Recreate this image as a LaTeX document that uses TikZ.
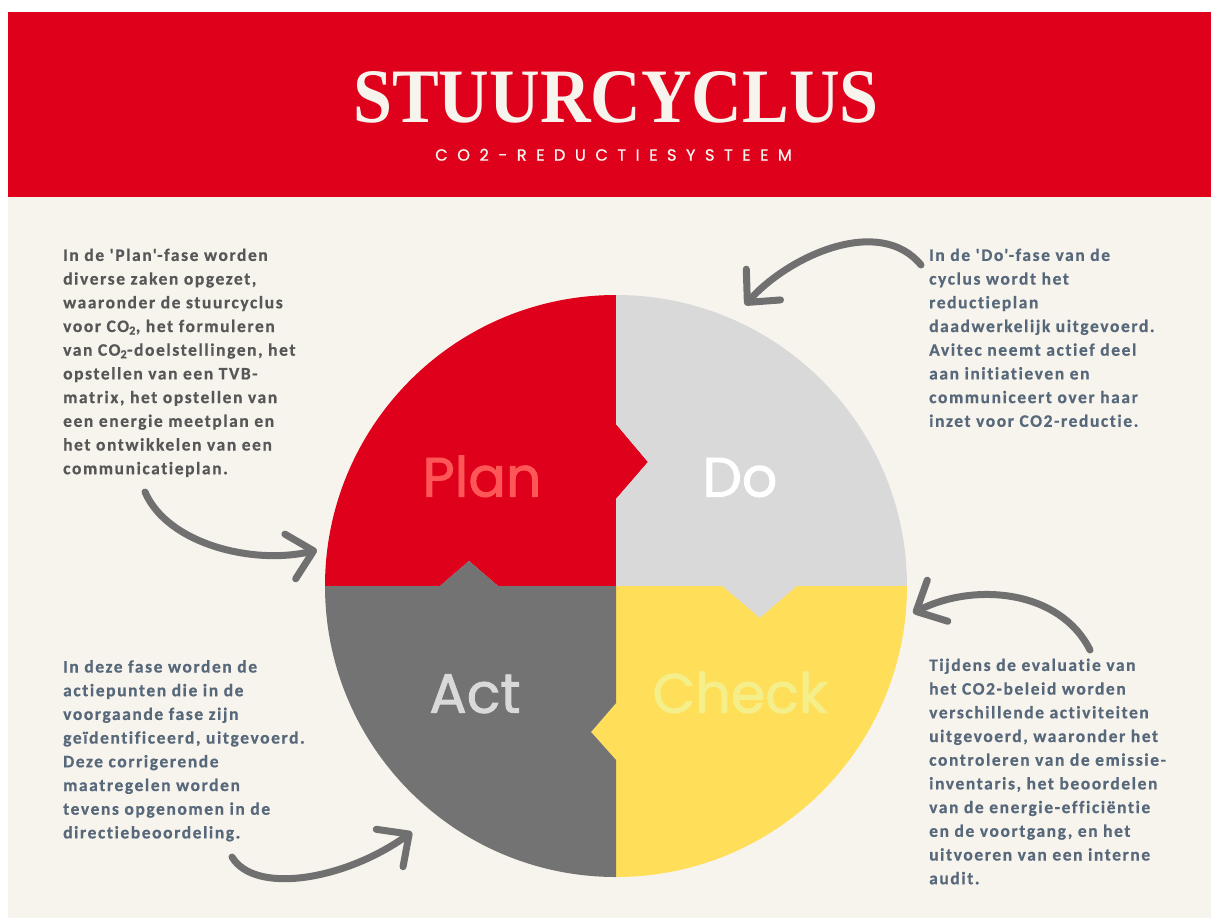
\documentclass[tikz,border=0pt]{standalone}
\usepackage{fontspec}
\usetikzlibrary{arrows.meta}
\newfontfamily\titlefont{Liberation Serif}
\newfontfamily\blockfont{Carlito}[LetterSpace=9,Ligatures={TeXOff,NoCommon},FakeBold=0.6]
\newfontfamily\lblfont{Poppins}[FakeBold=1.5]
\newfontfamily\subfont{Poppins}[LetterSpace=58,FakeBold=0.8]
\definecolor{hdrred}{HTML}{DF001B}
\definecolor{cream}{HTML}{F7F4EE}
\definecolor{ltgray}{HTML}{D9D9D9}
\definecolor{yel}{HTML}{FFDF5A}
\definecolor{dkgray}{HTML}{737373}
\definecolor{planlbl}{HTML}{FF5757}
\definecolor{checklbl}{HTML}{F4EF8A}
\definecolor{arrowgray}{HTML}{707070}
\definecolor{plantext}{HTML}{575757}
\definecolor{bluetext}{HTML}{56687A}
\tikzset{
  arw/.style={draw=arrowgray, line width=7pt, line cap=round,
    -{Straight Barb[length=24pt,width=46pt,round]}},
  blocktext/.style={anchor=north west, inner sep=0pt, align=left,
    font=\blockfont\bfseries\fontsize{17.5}{23.7}\selectfont},
  phaselbl/.style={anchor=base, inner sep=0pt,
    font=\lblfont\fontsize{55.5}{56}\selectfont},
}
\begin{document}
\begin{tikzpicture}[x=1pt,y=-1pt]
\useasboundingbox (0,0) rectangle (1211,918);
\fill[white] (0,0) rectangle (1211,918);
\fill[cream] (8,197) rectangle (1211,918);
\fill[hdrred] (8,12) rectangle (1211,197);

% header
\node[anchor=base, inner sep=0pt, text=cream,
  font=\titlefont\bfseries\fontsize{77}{77}\selectfont] (title) at (616,122)
  {\scalebox{0.91}[1]{STUURCYCLUS}};
\node[anchor=base west, inner sep=0pt, text=cream,
  font=\subfont\fontsize{16.3}{16}\selectfont] (subtitle) at (435,160.7)
  {CO2-REDUCTIESYSTEEM};

% PDCA circle
\begin{scope}
\clip (616,586) circle[radius=291];
\fill[hdrred] (616,586) -- (498,586) -- (469,561) -- (440,586) -- (300,586)
  -- (300,280) -- (616,280) -- (616,424) -- (648,462) -- (616,499) -- cycle;
\fill[ltgray] (616,280) -- (930,280) -- (930,586) -- (797,586) -- (760,618)
  -- (722,586) -- (616,586) -- (616,499) -- (648,462) -- (616,424) -- cycle;
\fill[yel] (616,586) -- (722,586) -- (760,618) -- (797,586) -- (930,586)
  -- (930,890) -- (616,890) -- (616,760) -- (591,732) -- (616,703) -- cycle;
\fill[dkgray] (616,586) -- (616,703) -- (591,732) -- (616,760) -- (616,890)
  -- (300,890) -- (300,586) -- (440,586) -- (469,561) -- (498,586) -- cycle;
\end{scope}

\node[phaselbl, text=planlbl] (plan) at (482,496.6) {Plan};
\node[phaselbl, text=white] (do) at (740,496.6) {Do};
\node[phaselbl, text=ltgray] (act) at (475,712.8) {Act};
\node[phaselbl, text=checklbl] (check) at (740,712.8) {Check};

% text blocks
\node[blocktext, text=plantext] (plantxt) at (63,246.7)
{\rule{0pt}{14pt}In de 'Plan'-fase worden\\
diverse zaken opgezet,\\
waaronder de stuurcyclus\\
voor CO\textsubscript{2}, het formuleren\\
van CO\textsubscript{2}-doelstellingen, het\\
opstellen van een TVB-\\
matrix, het opstellen van\\
een energie meetplan en\\
het ontwikkelen van een\\
communicatieplan.};

\node[blocktext, text=bluetext] (dotxt) at (929,246.7)
{\rule{0pt}{14pt}In de 'Do'-fase van de\\
cyclus wordt het\\
reductieplan\\
daadwerkelijk uitgevoerd.\\
Avitec neemt actief deel\\
aan initiatieven en\\
communiceert over haar\\
inzet voor CO2-reductie.};

\node[blocktext, text=bluetext] (checktxt) at (929,656.7)
{\rule{0pt}{14pt}Tijdens de evaluatie van\\
het CO2-beleid worden\\
verschillende activiteiten\\
uitgevoerd, waaronder het\\
controleren van de emissie-\\
inventaris, het beoordelen\\
van de energie-efficiëntie\\
en de voortgang, en het\\
uitvoeren van een interne\\
audit.};

\node[blocktext, text=bluetext] (acttxt) at (63,658.3)
{\rule{0pt}{14pt}In deze fase worden de\\
actiepunten die in de\\
voorgaande fase zijn\\
geïdentificeerd, uitgevoerd.\\
Deze corrigerende\\
maatregelen worden\\
tevens opgenomen in de\\
directiebeoordeling.};

% arrows
\coordinate (a1s) at (921,265);
\coordinate (a1e) at (745,305);
\coordinate (a2s) at (145,492);
\coordinate (a2e) at (317,550);
\coordinate (a3s) at (1090,650);
\coordinate (a3e) at (913,613);
\coordinate (a4s) at (232,857);
\coordinate (a4e) at (412,832);
\draw[arw] (a1s) .. controls (880,215) and (790,255) .. (a1e);
\draw[arw] (a2s) .. controls (168,545) and (255,565) .. (a2e);
\draw[arw] (a3s) .. controls (1060,590) and (975,582) .. (a3e);
\draw[arw] (a4s) .. controls (255,895) and (345,880) .. (a4e);
\end{tikzpicture}
\end{document}
